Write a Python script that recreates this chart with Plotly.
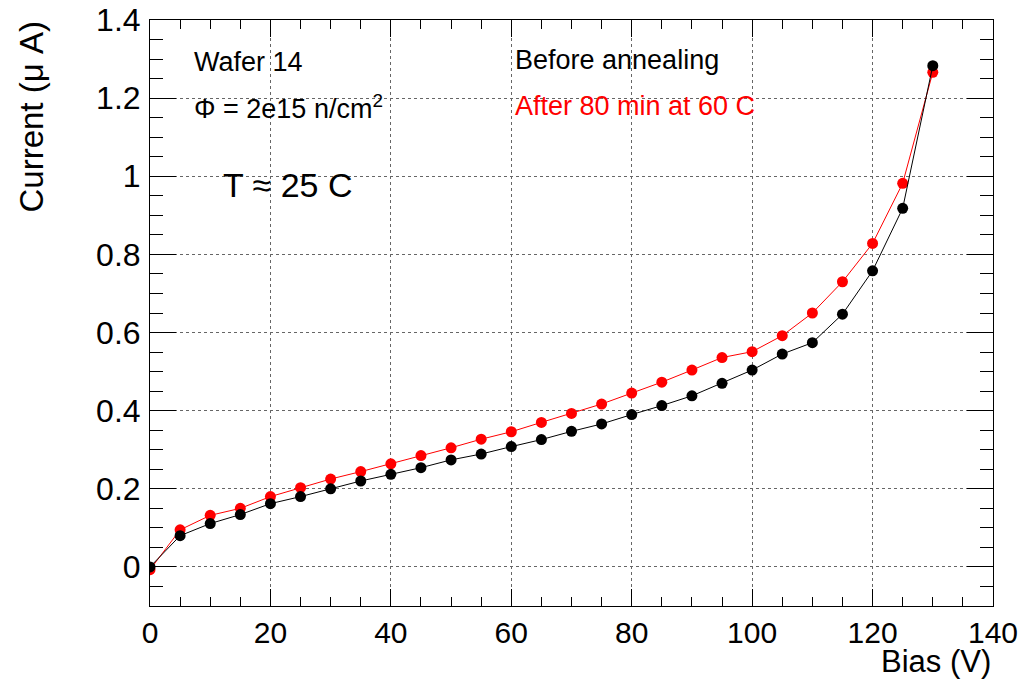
import plotly.graph_objects as go

bias = [0, 5, 10, 15, 20, 25, 30, 35, 40, 45, 50, 55, 60, 65, 70, 75, 80, 85,
        90, 95, 100, 105, 110, 115, 120, 125, 130]
before = [0.000, 0.080, 0.111, 0.134, 0.162, 0.180, 0.200, 0.220, 0.237, 0.254,
          0.274, 0.289, 0.308, 0.326, 0.347, 0.366, 0.390, 0.413, 0.438, 0.470,
          0.504, 0.545, 0.574, 0.647, 0.758, 0.918, 1.283]
after = [-0.007, 0.095, 0.132, 0.150, 0.180, 0.203, 0.225, 0.244, 0.264, 0.285,
         0.305, 0.327, 0.346, 0.370, 0.393, 0.417, 0.445, 0.473, 0.504, 0.536,
         0.551, 0.592, 0.650, 0.730, 0.828, 0.982, 1.266]

FONT = "Liberation Sans, Arial, Helvetica, sans-serif"

fig = go.Figure()
fig.add_trace(go.Scatter(x=bias, y=after, mode="lines+markers",
                         line=dict(color="red", width=1),
                         marker=dict(color="red", size=11, symbol="circle"),
                         showlegend=False))
fig.add_trace(go.Scatter(x=bias, y=before, mode="lines+markers",
                         line=dict(color="black", width=1),
                         marker=dict(color="black", size=11, symbol="circle"),
                         showlegend=False))

L, R, T, B = 150, 33, 20, 78
W, H = 1026, 684
pw, ph = W - L - R, H - T - B


def px(x):
    return (x - L) / pw


def py(y):
    return 1 - (y - T) / ph


axis_common = dict(
    showline=True, linecolor="black", linewidth=1, mirror="allticks",
    ticks="inside", tickcolor="black", tickwidth=1,
    showgrid=True, gridcolor="#666666", griddash="dot", gridwidth=1,
    zeroline=False, automargin=False,
)

fig.update_xaxes(range=[0, 140], dtick=20, tick0=0, ticklen=17,
                 minor=dict(dtick=5, ticks="inside", ticklen=9, tickcolor="black", showgrid=False),
                 tickfont=dict(family=FONT, size=30, color="black"),
                 ticklabelstandoff=0,
                 **axis_common)
fig.update_yaxes(range=[-0.1, 1.4], dtick=0.2, tick0=0, ticklen=26,
                 minor=dict(dtick=0.05, ticks="inside", ticklen=13, tickcolor="black", showgrid=False),
                 tickfont=dict(family=FONT, size=32, color="black"),
                 ticklabelstandoff=2,
                 **axis_common)

annotations = [
    dict(text="Wafer 14", x=px(192), y=py(62), size=27, color="black"),
    dict(text="Φ = 2e15 n/cm<sup>2</sup>", x=px(192), y=py(107), size=27, color="black"),
    dict(text="T ≈ 25 C", x=px(221), y=py(185), size=34, color="black"),
    dict(text="Before annealing", x=px(513), y=py(60), size=27, color="black"),
    dict(text="After 80 min at 60 C", x=px(513), y=py(106), size=27, color="red"),
]
for a in annotations:
    fig.add_annotation(text=a["text"], x=a["x"], y=a["y"], xref="paper", yref="paper",
                       xanchor="left", yanchor="middle", showarrow=False,
                       font=dict(family=FONT, size=a["size"], color=a["color"]))

fig.add_annotation(text="Bias (V)", x=1, y=py(661), xref="paper", yref="paper",
                   xanchor="right", yanchor="middle", showarrow=False,
                   font=dict(family=FONT, size=31, color="black"))
fig.add_annotation(text="Current (μ A)", x=px(31), y=1, xref="paper", yref="paper",
                   xanchor="center", yanchor="top", textangle=-90, showarrow=False,
                   font=dict(family=FONT, size=33, color="black"))

fig.update_layout(width=W, height=H, margin=dict(l=L, r=R, t=T, b=B, autoexpand=False),
                  paper_bgcolor="white", plot_bgcolor="white")

fig.write_html("out.html")
